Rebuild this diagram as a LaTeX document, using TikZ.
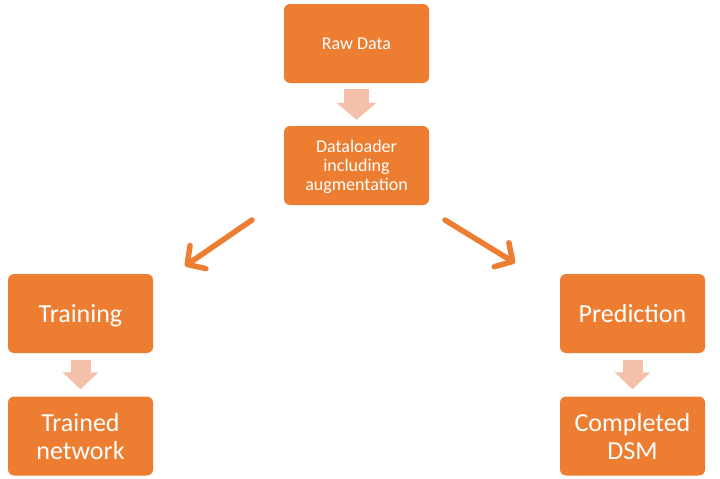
\documentclass[tikz,border=0pt]{standalone}
\usepackage{fontspec}
\setmainfont{Carlito}
\usetikzlibrary{calc}
\usetikzlibrary{arrows.meta}

\definecolor{boxorange}{HTML}{ED7D31}
\definecolor{arrowpink}{HTML}{F4C0AA}

\begin{document}
\begin{tikzpicture}[x=1pt, y=-1pt,
  box/.style={shape=rectangle, rounded corners=6pt, fill=boxorange, text=white, minimum width=145pt, minimum height=79pt, align=center, inner sep=0pt, text depth=0pt},
  small/.style={font=\fontsize{18}{19}\selectfont},
  big/.style={font=\fontsize{26}{28}\selectfont},
  fat/.style={draw=arrowpink, line width=25pt, -{Triangle[length=17pt,width=39pt]}, shorten <=6pt, shorten >=6pt},
  slim/.style={draw=boxorange, line width=5.5pt, line cap=round, -{Straight Barb[length=13pt,width=28pt,round]}}]
  \useasboundingbox (0,0) rectangle (720,479);
  \path (356.5,43.5)  node [box, small] (raw) {Raw Data};
  \path (356.5,165.5) node [box, small] (loader) {Dataloader\\including\\augmentation};
  \path (80.5,313.5)  node [box, big] (train) {Training};
  \path (80.5,436)    node [box, big] (trained) {Trained\\network};
  \path (632.5,313.5) node [box, big] (predict) {Prediction};
  \path (632.5,436)   node [box, big] (dsm) {Completed\\DSM};
  \draw [fat] (raw) -- (loader);
  \draw [fat, line width=20pt, -{Triangle[length=17pt,width=35pt]}, shorten <=7pt, shorten >=7pt] (train) -- (trained);
  \draw [fat, line width=20pt, -{Triangle[length=17pt,width=35pt]}, shorten <=7pt, shorten >=7pt] (predict) -- (dsm);
  \coordinate (lstart) at (252,220);
  \coordinate (lend) at (185,266);
  \coordinate (rstart) at (445,220);
  \coordinate (rend) at (515,263);
  \draw [slim] (lstart) -- (lend);
  \draw [slim] (rstart) -- (rend);
\end{tikzpicture}
\end{document}
